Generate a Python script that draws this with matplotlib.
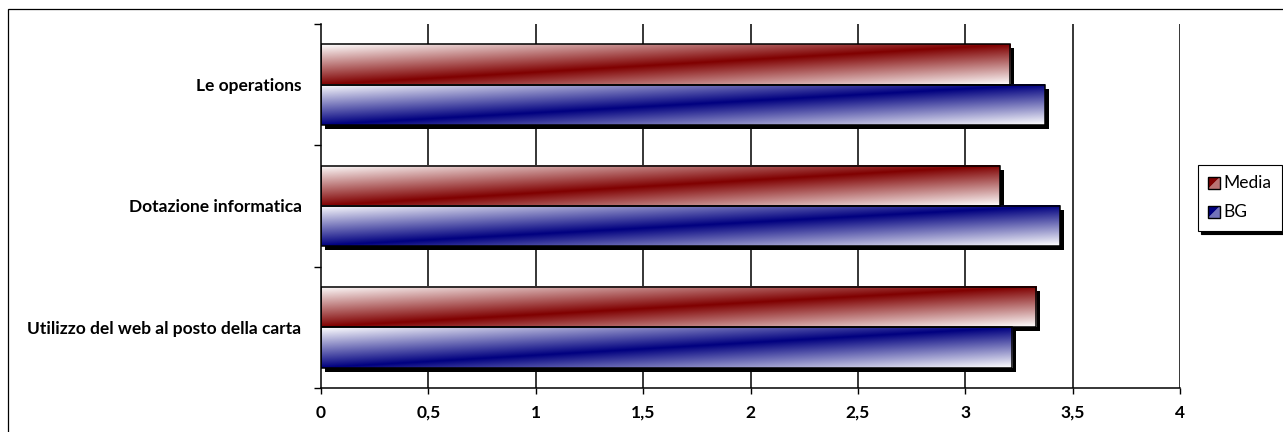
import numpy as np
import matplotlib.pyplot as plt
import matplotlib.transforms as mtransforms
from matplotlib.patches import Rectangle, Polygon
from matplotlib.legend_handler import HandlerBase

# dati
categorie = ['Utilizzo del web al posto della carta', 'Dotazione informatica', 'Le operations']
media = [3.33, 3.16, 3.21]
bg = [3.22, 3.44, 3.37]
serie = ['Media', 'BG']
colori = {'Media': (0.5, 0.0, 0.0), 'BG': (0.0, 0.0, 0.5)}
xticks = [0, 0.5, 1, 1.5, 2, 2.5, 3, 3.5, 4]
xlabels = ['0', '0,5', '1', '1,5', '2', '2,5', '3', '3,5', '4']

plt.rcParams['font.family'] = ['Lato', 'DejaVu Sans']

fig = plt.figure(figsize=(12.83, 4.32), dpi=100)
ax = fig.add_axes([321/1283, 1 - 388/432, (1180 - 321)/1283, (388 - 24)/432])

# cornice esterna (tagliata a destra e in basso)
fig.add_artist(Rectangle((8/1283, -0.2), 1.2, (432 - 9)/432 + 0.2, transform=fig.transFigure,
                         fill=False, edgecolor='black', lw=0.9))


def gradiente(c, nx=300, ny=60):
    u = np.linspace(0, 1, nx)
    v = np.linspace(0, 1, ny)
    t = np.clip(np.abs(v[:, None] - u[None, :]), 0, 1)
    img = np.empty((ny, nx, 3))
    for k in range(3):
        img[:, :, k] = c[k]*(1 - t) + 1.0*t
    return img


y = np.arange(len(categorie))
h = 1/3
ombra = mtransforms.offset_copy(ax.transData, fig=fig, x=4, y=-4, units='dots')

for nome, vals, dy in [('Media', media, h/2), ('BG', bg, -h/2)]:
    # ombre
    ax.barh(y + dy, vals, height=h, color='black', zorder=1, transform=ombra)
    barre = ax.barh(y + dy, vals, height=h, facecolor='none', edgecolor='black', lw=1.1, zorder=3)
    img = gradiente(colori[nome])
    for b in barre:
        x0, y0, w, hh = b.get_x(), b.get_y(), b.get_width(), b.get_height()
        ax.imshow(img, extent=(x0, x0 + w, y0, y0 + hh), origin='lower', aspect='auto',
                  interpolation='bilinear', zorder=2)

ax.set_xlim(0, 4)
ax.set_ylim(-0.5, 2.5)

for xv in xticks[1:]:
    ax.axvline(xv, color='black', lw=1.1, zorder=0.5)

ax.set_xticks(xticks)
ax.set_xticklabels(xlabels, fontweight='bold', fontsize=12.5)
ax.tick_params(axis='x', direction='out', length=4, width=1, pad=8)

ax.set_yticks([-0.5, 0.5, 1.5, 2.5])
ax.set_yticklabels([])
ax.set_yticks(y, minor=True)
ax.set_yticklabels(categorie, minor=True, fontweight='bold', fontsize=12.5)
ax.tick_params(axis='y', which='major', direction='out', length=5, width=1)
ax.tick_params(axis='y', which='minor', length=0, pad=14)

ax.spines['top'].set_visible(False)
ax.spines['right'].set_visible(False)
ax.spines['left'].set_linewidth(1.1)
ax.spines['bottom'].set_linewidth(1.1)


# legenda con quadratini divisi in diagonale
class HandlerDiag(HandlerBase):
    def create_artists(self, legend, orig, xd, yd, w, hgt, fontsize, trans):
        c = orig.get_facecolor()
        s = hgt
        x0 = xd + (w - s)
        chiaro = tuple(0.55*np.array(c[:3]) + 0.45)
        p1 = Polygon([[x0, yd], [x0 + s, yd], [x0 + s, yd + s]], closed=True,
                     facecolor=chiaro, edgecolor='none', transform=trans)
        p2 = Polygon([[x0, yd], [x0, yd + s], [x0 + s, yd + s]], closed=True,
                     facecolor=c, edgecolor='none', transform=trans)
        r = Rectangle((x0, yd), s, s, facecolor='none', edgecolor='black', lw=1, transform=trans)
        return [p1, p2, r]


maniglie = [Rectangle((0, 0), 1, 1, facecolor=colori[s]) for s in serie]
leg = fig.legend(maniglie, serie, loc='upper left', bbox_to_anchor=(1198/1283, 1 - 165/432),
                 bbox_transform=fig.transFigure, handler_map={Rectangle: HandlerDiag()},
                 frameon=True, fancybox=False, fontsize=12.5, handlelength=0.65, handleheight=0.65,
                 handletextpad=0.2, labelspacing=0.75, borderpad=0.6, borderaxespad=0,
                 shadow={'color': 'black', 'alpha': 1})
leg.get_frame().set_edgecolor('black')
leg.get_frame().set_linewidth(0.8)

fig.savefig('out.png', dpi=100)
